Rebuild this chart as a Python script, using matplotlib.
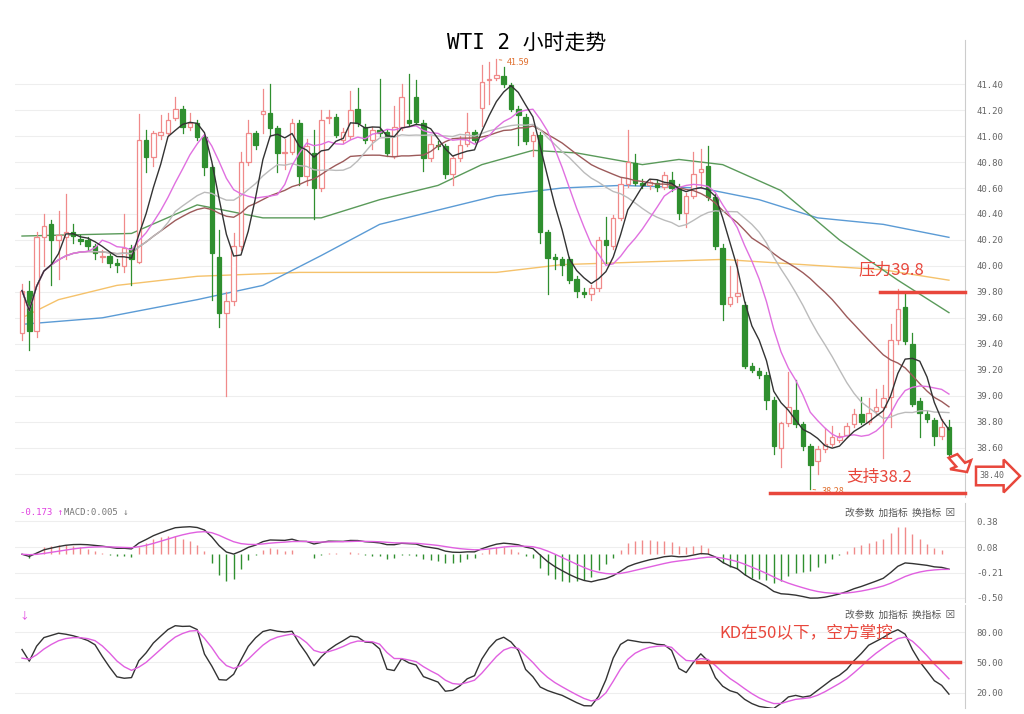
import matplotlib
matplotlib.use("Agg")
import matplotlib.pyplot as plt
import numpy as np
import pandas as pd
from matplotlib.patches import FancyArrow, Rectangle

plt.rcParams['font.family'] = ['Noto Sans CJK SC', 'DejaVu Sans']

opens = [39.48,39.81,39.50,40.22,40.32,40.20,40.22,40.26,40.21,40.20,40.15,40.07,40.08,40.02,40.00,40.14,40.03,40.97,40.84,41.01,
 41.02,41.14,41.21,41.07,41.10,40.99,40.76,40.07,39.64,39.73,40.15,40.80,41.02,41.17,41.18,41.06,40.87,40.88,41.10,40.69,
 40.87,40.60,41.14,41.15,40.97,41.00,41.21,41.07,40.97,41.05,41.03,40.85,41.07,41.12,41.30,41.10,40.83,40.93,40.92,40.71,
 40.83,40.94,41.03,41.22,41.43,41.45,41.46,41.39,41.21,41.15,40.96,41.01,40.26,40.07,40.05,40.05,39.90,39.80,39.78,39.83,
 40.20,40.15,40.37,40.63,40.79,40.64,40.62,40.64,40.61,40.66,40.61,40.41,40.54,40.72,40.77,40.53,40.14,39.71,39.77,39.70,
 39.23,39.19,39.16,38.97,38.60,38.79,38.89,38.78,38.61,38.50,38.59,38.63,38.66,38.70,38.78,38.86,38.80,38.88,38.91,38.99,
 39.43,39.68,39.40,38.96,38.86,38.81,38.69,38.76]
highs = [39.86,39.88,40.26,40.40,40.35,40.42,40.55,40.32,40.24,40.22,40.17,40.12,40.10,40.05,40.40,40.16,41.17,41.05,41.04,41.16,
 41.18,41.30,41.23,41.18,41.12,41.01,40.78,40.28,39.80,40.25,40.88,41.12,41.04,41.36,41.40,41.08,40.98,41.13,41.12,40.98,
 41.05,41.20,41.20,41.17,41.06,41.35,41.37,41.09,41.07,41.44,41.05,41.23,41.40,41.48,41.43,41.12,41.00,40.96,40.94,40.85,
 41.00,41.18,41.05,41.55,41.57,41.59,41.53,41.41,41.23,41.17,41.03,41.03,40.28,40.09,40.07,40.07,39.92,39.83,39.85,40.22,
 40.38,40.39,40.68,41.05,40.86,40.67,40.67,40.66,40.72,40.72,40.63,40.56,40.88,40.90,40.92,40.55,40.17,40.00,40.05,39.72,
 39.25,39.21,39.18,38.99,38.80,39.18,39.12,38.80,38.63,38.61,38.75,38.77,38.71,38.79,38.90,38.99,38.98,39.05,39.08,39.55,
 39.82,39.78,39.48,38.98,38.88,38.83,38.82,38.81]
lows = [39.43,39.35,39.45,40.00,39.85,39.90,40.05,40.18,40.17,40.12,40.05,40.03,39.99,39.95,39.95,39.85,40.02,40.72,40.77,40.98,
 41.00,41.12,41.02,41.05,40.97,40.70,39.74,39.53,39.00,39.70,40.12,40.78,40.90,41.02,41.00,40.72,40.75,40.86,40.62,40.62,
 40.36,40.58,41.10,40.99,40.95,40.98,41.08,40.95,40.90,41.00,40.85,40.83,41.05,41.08,41.09,40.73,40.81,40.90,40.68,40.62,
 40.81,40.92,40.95,41.08,41.25,41.43,41.38,41.19,40.93,40.94,40.85,40.18,39.78,39.98,39.93,39.87,39.76,39.76,39.74,39.81,
 40.02,40.13,40.35,40.61,40.62,40.60,40.59,40.58,40.59,40.58,40.36,40.30,40.52,40.60,40.51,40.13,39.58,39.69,39.72,39.21,
 39.18,39.14,38.90,38.55,38.45,38.77,38.76,38.58,38.28,38.40,38.57,38.61,38.64,38.68,38.76,38.78,38.78,38.86,38.52,38.76,
 39.40,39.40,38.92,38.68,38.80,38.62,38.67,38.53]
closes = [39.81,39.50,40.22,40.31,40.20,40.24,40.26,40.23,40.19,40.15,40.10,40.08,40.02,40.01,40.14,40.05,40.97,40.84,41.02,41.03,
 41.12,41.21,41.07,41.10,40.99,40.76,40.10,39.64,39.73,40.15,40.80,41.02,40.93,41.19,41.06,40.87,40.88,41.10,40.69,40.92,
 40.60,41.12,41.15,41.01,41.03,41.20,41.10,40.97,41.05,41.02,40.87,41.07,41.30,41.10,41.11,40.83,40.94,40.92,40.71,40.83,
 40.93,41.03,40.97,41.42,41.44,41.47,41.40,41.21,41.16,40.96,41.01,40.26,40.06,40.05,40.01,39.89,39.81,39.78,39.83,40.20,
 40.16,40.37,40.63,40.80,40.64,40.62,40.65,40.61,40.70,40.60,40.41,40.54,40.71,40.75,40.53,40.15,39.71,39.76,39.79,39.23,
 39.20,39.16,38.97,38.61,38.79,38.91,38.78,38.61,38.47,38.59,38.63,38.68,38.69,38.77,38.86,38.80,38.87,38.91,38.98,39.43,
 39.67,39.42,38.94,38.87,38.82,38.69,38.76,38.55]

# long moving averages (candle index, price)
ma60_idx = [0, 15, 24, 33, 41, 49, 57, 63, 70, 76, 85, 90, 96, 104, 112, 120, 127]
ma60_val = [40.23, 40.25, 40.47, 40.37, 40.37, 40.51, 40.62, 40.78, 40.89, 40.87, 40.78, 40.82, 40.78, 40.58, 40.20, 39.89, 39.64]
ma120_idx = [0, 11, 24, 33, 41, 49, 57, 65, 74, 82, 93, 101, 109, 118, 127]
ma120_val = [39.55, 39.60, 39.74, 39.85, 40.08, 40.32, 40.43, 40.54, 40.60, 40.62, 40.60, 40.51, 40.37, 40.32, 40.22]
ma250_idx = [0, 5, 13, 24, 38, 52, 65, 74, 85, 96, 107, 118, 127]
ma250_val = [39.60, 39.74, 39.85, 39.92, 39.95, 39.95, 39.95, 40.01, 40.03, 40.05, 40.01, 39.97, 39.89]

price_ticks = [38.40,38.60,38.80,39.00,39.20,39.40,39.60,39.80,40.00,40.20,40.40,40.60,40.80,41.00,41.20,41.40]
macd_ticks = [-0.50, -0.21, 0.08, 0.38]
kd_ticks = [20, 50, 80]
resistance = 39.80
support = 38.25

RED = '#f08a8a'
GREEN = '#2f8f2f'
ANN = '#e8473c'

o = np.array(opens); h = np.array(highs); l = np.array(lows); c = np.array(closes)
n = len(c)
x = np.arange(n)
cs = pd.Series(c)

W, H = 1024, 714
fig = plt.figure(figsize=(10.24, 7.14), dpi=100)
L0, R0 = 15 / W, 965 / W
xl = (-0.96, 129.2)

def ax_at(top, bot):
    return fig.add_axes([L0, 1 - bot / H, R0 - L0, (bot - top) / H])

def style(ax, ticks, fmt):
    ax.set_xlim(*xl)
    ax.yaxis.tick_right()
    ax.set_yticks(ticks)
    ax.set_yticklabels([fmt(t) for t in ticks], fontsize=6.5, color='#666666', family='DejaVu Sans Mono')
    ax.tick_params(axis='y', length=0, pad=8)
    ax.set_xticks([])
    for s in ['top', 'left', 'bottom']:
        ax.spines[s].set_visible(False)
    ax.spines['right'].set_color('#cccccc')
    ax.grid(axis='y', color='#eeeeee', lw=0.8)
    ax.set_axisbelow(True)

# ---- main panel
ax = ax_at(40, 497)
style(ax, price_ticks, lambda t: f"{t:.2f}")
ax.set_ylim(38.22, 41.74)
bw = 0.62
for i in range(n):
    up = c[i] >= o[i]
    col = RED if up else GREEN
    lo_b, hi_b = min(o[i], c[i]), max(o[i], c[i])
    ax.plot([i, i], [l[i], lo_b], color=col, lw=0.9, zorder=2)
    ax.plot([i, i], [hi_b, h[i]], color=col, lw=0.9, zorder=2)
    ax.add_patch(Rectangle((i - bw / 2, lo_b), bw, max(hi_b - lo_b, 0.008),
                           facecolor='white' if up else GREEN, edgecolor=col, lw=0.9, zorder=3))
ax.plot(ma250_idx, ma250_val, color='#f5c26b', lw=1.0, zorder=1)
ax.plot(ma120_idx, ma120_val, color='#5b9bd5', lw=1.0, zorder=1)
ax.plot(ma60_idx, ma60_val, color='#5a9a5a', lw=1.0, zorder=1)
ax.plot(x, cs.rolling(30, min_periods=1).mean(), color='#9c5a5a', lw=1.0, zorder=4)
ax.plot(x, cs.rolling(20, min_periods=1).mean(), color='#bbbbbb', lw=1.0, zorder=4)
ax.plot(x, cs.rolling(10, min_periods=1).mean(), color='#e070e0', lw=1.0, zorder=4)
ax.plot(x, cs.rolling(5, min_periods=1).mean(), color='#333333', lw=1.0, zorder=5)

imax = int(np.argmax(h)); imin = int(np.argmin(l))
ax.annotate(f"{h[imax]:.2f}", xy=(imax, h[imax]), xytext=(imax + 1.5, h[imax] - 0.02),
            fontsize=6.5, color='#e07030', va='center',
            arrowprops=dict(arrowstyle='-', color='#e07030', lw=0.6))
ax.annotate(f"{l[imin]:.2f}", xy=(imin, l[imin]), xytext=(imin + 1.5, l[imin] - 0.02),
            fontsize=6.5, color='#e07030', va='center',
            arrowprops=dict(arrowstyle='-', color='#e07030', lw=0.6))
ax.plot([117.5, 129.2], [resistance, resistance], color=ANN, lw=2.5, zorder=6, clip_on=False)
ax.text(114.6, 39.97, "压力39.8", fontsize=12, color=ANN, va='center', zorder=6)
ax.plot([102.5, 129.2], [support, support], color=ANN, lw=2.5, zorder=6, clip_on=False)
ax.text(113, 38.37, "支持38.2", fontsize=12, color=ANN, va='center', zorder=6)

fig.text(527 / W, 1 - 43 / H, "WTI 2 小时走势", fontsize=15, ha='center', va='center',
         family=['DejaVu Sans Mono', 'Noto Sans CJK SC'])

# arrows
fig.patches.append(FancyArrow(953 / W, 1 - 456 / H, 14 / W, -16 / H, width=0.010, head_width=0.024,
                              head_length=0.012, facecolor='white', edgecolor=ANN, lw=1.8,
                              transform=fig.transFigure, length_includes_head=True))
fig.patches.append(FancyArrow(976 / W, 1 - 476 / H, 44 / W, 0, width=0.026, head_width=0.046,
                              head_length=0.016, facecolor='white', edgecolor=ANN, lw=1.8,
                              transform=fig.transFigure, length_includes_head=True))
fig.text(979 / W, 1 - 476 / H, "38.40", fontsize=6, color='#666666', va='center', family='DejaVu Sans Mono')

# ---- MACD
ema12 = cs.ewm(span=12, adjust=False).mean()
ema26 = cs.ewm(span=26, adjust=False).mean()
dif = ema12 - ema26
dea = dif.ewm(span=9, adjust=False).mean()
hist = 2 * (dif - dea)
ax2 = ax_at(503, 602)
style(ax2, macd_ticks, lambda t: f"{t:.2f}")
ax2.set_ylim(-0.546, 0.586)
ax2.vlines(x, 0, hist, colors=[RED if v >= 0 else GREEN for v in hist], lw=1.0)
ax2.plot(x, dif, color='#333333', lw=1.0)
ax2.plot(x, dea, color='#e060e0', lw=1.0)
ax2.text(0.005, 0.9, f"{dea.iloc[-1]:.3f} ↑", transform=ax2.transAxes, fontsize=6.5, color='#e040e0', va='center',
         family='DejaVu Sans Mono')
ax2.text(0.052, 0.9, f"MACD:{hist.iloc[-1]:.3f} ↓", transform=ax2.transAxes, fontsize=6.5, color='#777777',
         va='center', family='DejaVu Sans Mono')
ax2.text(0.99, 0.9, "改参数  加指标  换指标  ⊠", transform=ax2.transAxes, fontsize=7, color='#555555',
         va='center', ha='right')

# ---- KD
llv = pd.Series(l).rolling(9, min_periods=1).min()
hhv = pd.Series(h).rolling(9, min_periods=1).max()
rsv = ((cs - llv) / (hhv - llv) * 100).fillna(50).values
K = np.zeros(n); D = np.zeros(n)
kp, dp = 50.0, 50.0
for i in range(n):
    kp = 2 / 3 * kp + rsv[i] / 3
    dp = 2 / 3 * dp + kp / 3
    K[i], D[i] = kp, dp
ax3 = ax_at(605, 708)
style(ax3, kd_ticks, lambda t: f"{t:.2f}")
ax3.set_ylim(5.2, 106.6)
ax3.plot(x, K, color='#333333', lw=1.0)
ax3.plot(x, D, color='#e060e0', lw=1.0)
ax3.text(0.005, 0.9, "↓", transform=ax3.transAxes, fontsize=7, color='#e040e0', va='center')
ax3.text(0.99, 0.9, "改参数  加指标  换指标  ⊠", transform=ax3.transAxes, fontsize=7, color='#555555',
         va='center', ha='right')
ax3.plot([92.5, 128.5], [50, 50], color=ANN, lw=2.5)
ax3.text(95.5, 79, "KD在50以下，空方掌控", fontsize=12, color=ANN, va='center')

fig.savefig("out.png", dpi=100)
